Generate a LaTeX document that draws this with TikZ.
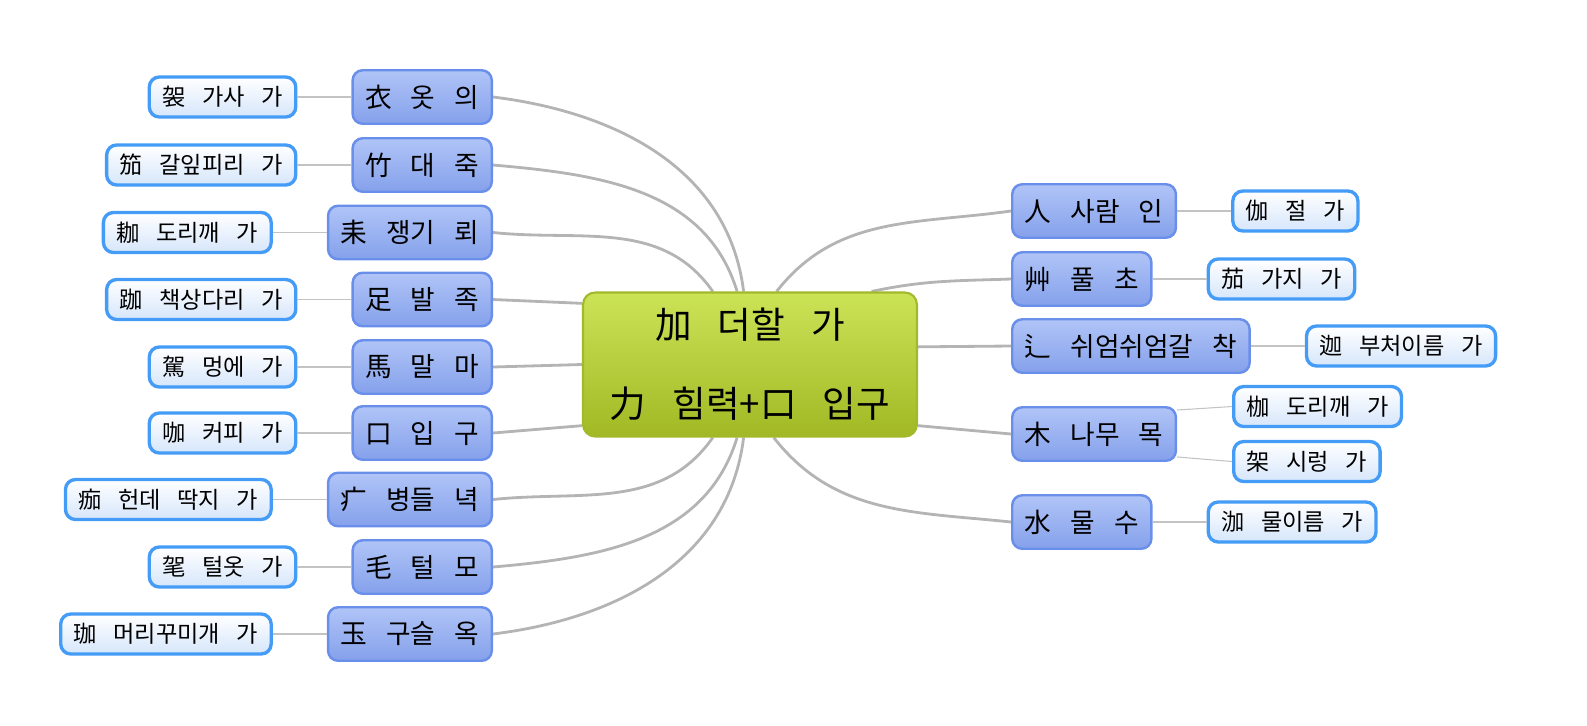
\documentclass[tikz,border=0pt]{standalone}
\usepackage{fontspec}
\setmainfont{Noto Sans CJK KR}[WordSpace=3.2]
\usepackage{tikz}
\usetikzlibrary{positioning,backgrounds}

\definecolor{hubtop}{HTML}{CBE356}
\definecolor{hubbot}{HTML}{A2B925}
\definecolor{hubline}{HTML}{A3B82A}
\definecolor{topictop}{HTML}{B0C4F7}
\definecolor{topicbot}{HTML}{85A1EB}
\definecolor{topicline}{HTML}{6A8FEA}
\definecolor{leafbot}{HTML}{D6E6FB}
\definecolor{leafline}{HTML}{449CF6}
\definecolor{branchgray}{HTML}{B4B4B4}

\begin{document}
\begin{tikzpicture}[x=0.02cm,y=0.02cm,
  hub/.style={rounded corners=0.24cm,draw=hubline,line width=1.2pt,top color=hubtop,bottom color=hubbot,
    minimum width=6.68cm,minimum height=2.88cm,align=center,font=\fontsize{20.8}{45}\selectfont},
  topic/.style={rounded corners=0.2cm,draw=topicline,line width=1.4pt,top color=topictop,bottom color=topicbot,
    minimum height=1.07cm,inner xsep=0.25cm,font=\fontsize{15.2}{17}\selectfont},
  leaf/.style={rounded corners=0.2cm,draw=leafline,line width=1.9pt,top color=white,bottom color=leafbot,
    minimum height=0.8cm,inner xsep=0.26cm,font=\fontsize{13.2}{15}\selectfont},
  branch/.style={draw=branchgray,line width=1.6pt},
  twig/.style={draw=branchgray!80,line width=0.6pt}
]
\useasboundingbox (0,0) rectangle (1587,-725);

\node[hub] (C) at (750,-364.5) {加 더할 가\\力 힘력+口 입구};

% left side
\node[topic,anchor=east] (l1) at (493,-97)    {衣 옷 의};
\node[topic,anchor=east] (l2) at (493,-165)   {竹 대 죽};
\node[topic,anchor=east] (l3) at (493,-232.5) {耒 쟁기 뢰};
\node[topic,anchor=east] (l4) at (493,-299.5) {足 발 족};
\node[topic,anchor=east] (l5) at (493,-367)   {馬 말 마};
\node[topic,anchor=east] (l6) at (493,-433)   {口 입 구};
\node[topic,anchor=east] (l7) at (493,-499.5) {疒 병들 녁};
\node[topic,anchor=east] (l8) at (493,-567)   {毛 털 모};
\node[topic,anchor=east] (l9) at (493,-634)   {玉 구슬 옥};

\node[leaf,left=1.08cm of l1] (w1) {袈 가사 가};
\node[leaf,left=1.08cm of l2] (w2) {笳 갈잎피리 가};
\node[leaf,left=1.08cm of l3] (w3) {耞 도리깨 가};
\node[leaf,left=1.08cm of l4] (w4) {跏 책상다리 가};
\node[leaf,left=1.08cm of l5] (w5) {駕 멍에 가};
\node[leaf,left=1.08cm of l6] (w6) {咖 커피 가};
\node[leaf,left=1.08cm of l7] (w7) {痂 헌데 딱지 가};
\node[leaf,left=1.08cm of l8] (w8) {毠 털옷 가};
\node[leaf,left=1.08cm of l9] (w9) {珈 머리꾸미개 가};

% right side
\node[topic,anchor=west] (r1) at (1011,-211) {人 사람 인};
\node[topic,anchor=west] (r2) at (1011,-279) {艸 풀 초};
\node[topic,anchor=west] (r3) at (1011,-346) {辶 쉬엄쉬엄갈 착};
\node[topic,anchor=west] (r4) at (1011,-434) {木 나무 목};
\node[topic,anchor=west] (r5) at (1011,-522) {水 물 수};

\node[leaf,right=1.08cm of r1] (s1) {伽 절 가};
\node[leaf,right=1.08cm of r2] (s2) {茄 가지 가};
\node[leaf,right=1.08cm of r3] (s3) {迦 부처이름 가};
\node[leaf,anchor=west] (s4) at (1232,-406.5) {枷 도리깨 가};
\node[leaf,anchor=west] (s5) at (1232,-461.5) {架 시렁 가};
\node[leaf,right=1.08cm of r5] (s6) {泇 물이름 가};

\begin{scope}[on background layer]
  \draw[branch] (C.95)  to[out=97,in=-7]   (l1.east);
  \draw[branch] (C.100) to[out=107,in=-5]  (l2.east);
  \draw[branch] (C.117) to[out=125,in=-6]  (l3.east);
  \draw[branch] (C.160) -- (l4.east);
  \draw[branch] (C.180) -- (l5.east);
  \draw[branch] (C.200) -- (l6.east);
  \draw[branch] (C.243) to[out=-125,in=6]  (l7.east);
  \draw[branch] (C.260) to[out=-107,in=5]  (l8.east);
  \draw[branch] (C.265) to[out=-97,in=7]   (l9.east);
  \draw[branch] (C.70)  to[out=52,in=188]  (r1.west);
  \draw[branch] (C.31)  to[out=12,in=182]  (r2.west);
  \draw[branch] (C.6)   -- (r3.west);
  \draw[branch] (C.-20) -- (r4.west);
  \draw[branch] (C.-72) to[out=-52,in=174] (r5.west);
\end{scope}

\foreach \i in {1,...,9}
  \draw[twig] (w\i) -- (l\i);
\draw[twig] (r1) -- (s1);
\draw[twig] (r2) -- (s2);
\draw[twig] (r3) -- (s3);
\draw[twig] ([yshift=-0.08cm]r4.north east) -- (s4.west);
\draw[twig] ([yshift=0.1cm]r4.south east) -- (s5.west);
\draw[twig] (r5) -- (s6);
\end{tikzpicture}
\end{document}
